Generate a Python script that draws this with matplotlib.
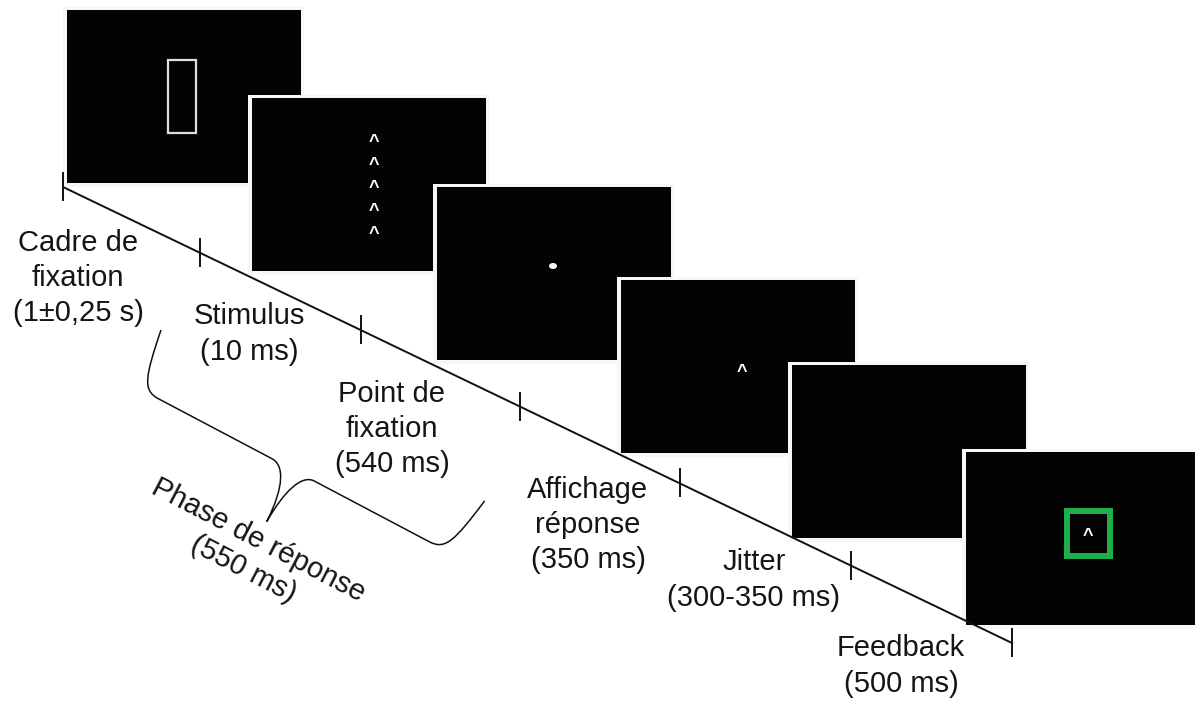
import matplotlib.pyplot as plt
import numpy as np
from matplotlib.patches import Rectangle, Ellipse, PathPatch
from matplotlib.path import Path

# trial sequence: event names and durations
events = ["Cadre de\nfixation", "Stimulus", "Point de\nfixation",
          "Affichage\nréponse", "Jitter", "Feedback"]
durations = ["1±0,25 s", "10 ms", "540 ms", "350 ms", "300-350 ms", "500 ms"]
phase_label = "Phase de réponse"
phase_duration = "550 ms"

# layout (pixel coords, y down)
W, H = 1195, 704
screen_xy = [(67, 10), (252, 98), (437, 187), (621, 280), (792, 365), (966, 452)]
screen_w, screen_h = 234, 173
tick_x = [63, 200, 361, 520, 680, 851, 1012]
line_start = (63, 187)
line_end = (1012, 643)
label_xy = [(78, 278), (249, 334), (392, 429), (588, 525), (754, 580), (901, 666)]

plt.rcParams['font.family'] = ['Liberation Sans', 'DejaVu Sans']
txt_color = '#151515'

fig = plt.figure(figsize=(W / 100, H / 100), dpi=100)
ax = fig.add_axes([0, 0, 1, 1])
ax.set_xlim(0, W)
ax.set_ylim(H, 0)
ax.axis('off')

# screens, each one overlapping the previous
for i, (x, y) in enumerate(screen_xy):
    ax.add_patch(Rectangle((x - 3.5, y - 3.5), screen_w + 7, screen_h + 7,
                           facecolor='#f7f7f7', edgecolor='none', zorder=2 + 2 * i))
    ax.add_patch(Rectangle((x, y), screen_w, screen_h,
                           facecolor='#030303', edgecolor='none', zorder=3 + 2 * i))

# screen contents
ax.add_patch(Rectangle((168, 60), 28, 73, facecolor='none', edgecolor='#e0e0e0',
                       lw=1.6, zorder=20))


def caret(x, y):
    ax.text(x, y + 10, "^", color='white', fontsize=13, fontweight='bold',
            ha='center', va='baseline', zorder=21)


for cy in [137, 160, 183, 206, 229]:
    caret(374, cy)
ax.add_patch(Ellipse((553, 266), 8, 6, facecolor='white', edgecolor='none', zorder=20))
caret(742, 367)
ax.add_patch(Rectangle((1067, 511), 43, 45, facecolor='none', edgecolor='#1fb04c',
                       lw=4.3, zorder=20))
caret(1088, 531)

# timeline
slope = (line_end[1] - line_start[1]) / (line_end[0] - line_start[0])
ax.plot([line_start[0], line_end[0]], [line_start[1], line_end[1]],
        color='#111111', lw=1.4, zorder=30)
for tx in tick_x:
    ty = line_start[1] + slope * (tx - line_start[0])
    ax.plot([tx, tx], [ty - 14, ty + 13], color='#111111', lw=1.4, zorder=30)

# event labels
for (lx, ly), ev, du in zip(label_xy, events, durations):
    ax.text(lx, ly, f"{ev}\n({du})", ha='center', va='center', fontsize=21,
            color=txt_color, linespacing=1.32, zorder=31)

# curly brace for the response phase (local u along, v perpendicular)
p0 = np.array([161.0, 330.0])
d = np.array([322.0, 170.0])
d = d / np.linalg.norm(d)
n = np.array([-d[1], d[0]])
uv = [(0, 0), (8, 50), (12, 62), (30, 62), (158, 62),
      (172, 62), (182, 80), (183, 120),
      (184, 85), (192, 62), (206, 62), (336, 62),
      (354, 62), (358, 50), (366, 0)]
codes = [Path.MOVETO, Path.CURVE4, Path.CURVE4, Path.CURVE4, Path.LINETO,
         Path.CURVE4, Path.CURVE4, Path.CURVE4,
         Path.CURVE4, Path.CURVE4, Path.CURVE4, Path.LINETO,
         Path.CURVE4, Path.CURVE4, Path.CURVE4]
verts = [p0 + u * d + v * n for u, v in uv]
ax.add_patch(PathPatch(Path(verts, codes), facecolor='none', edgecolor='#111111',
                       lw=1.1, zorder=30))

ax.text(251, 555, f"{phase_label}\n({phase_duration})", ha='center', va='center',
        rotation=-27.5, rotation_mode='anchor', fontsize=21, color=txt_color,
        linespacing=1.2, zorder=31)

fig.savefig("out.png", dpi=100)
